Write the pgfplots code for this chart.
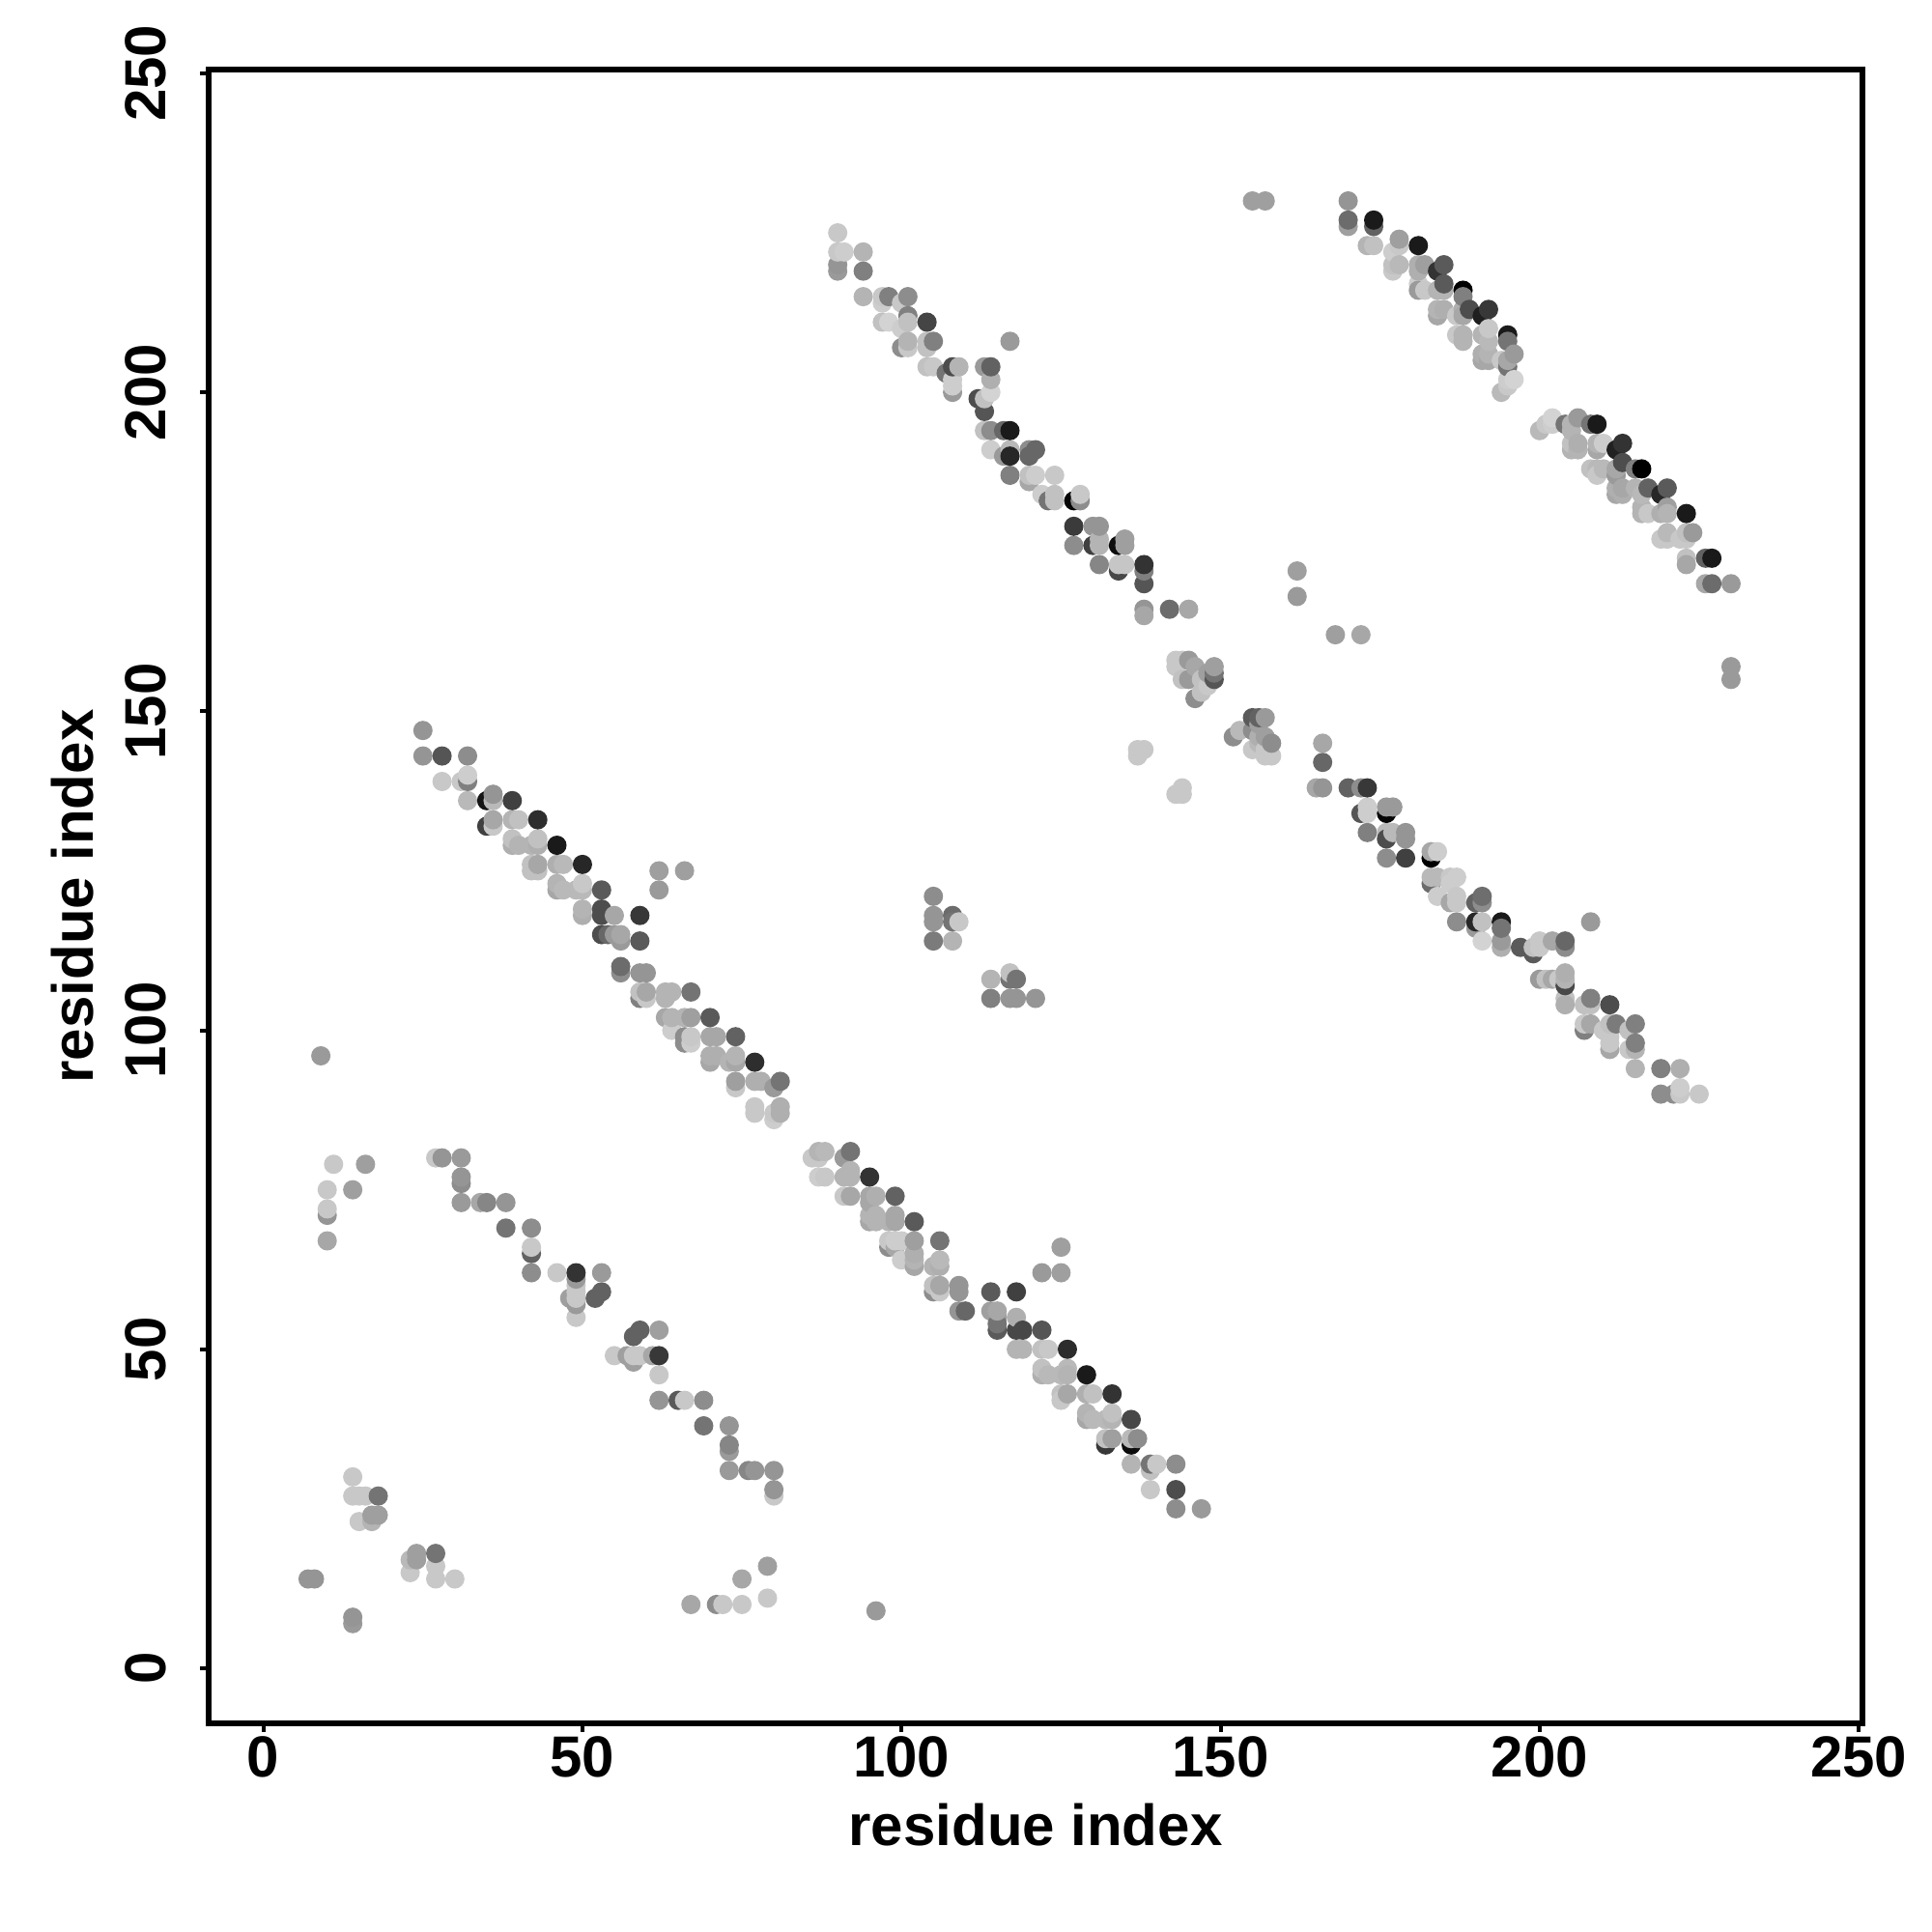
\documentclass[border=0pt]{standalone}
\usepackage{pgfplots}
\usepackage{pgfplotstable}
\pgfplotsset{compat=1.18}
\usepackage{fontspec}
\setmainfont{Liberation Sans}
\pgfplotstableread[row sep=\\]{
x y g\\
90 225 78\\ 90 220 58\\ 90 219 60\\ 94 219 50\\ 90 222 78\\ 91 222 80\\ 94 222 70\\
94 215 70\\ 97 215 78\\ 97 214 80\\ 98 215 50\\ 101 215 55\\ 100 214 78\\
101 212 50\\ 104 211 27\\ 97 211 75\\ 98 211 82\\ 100 210 80\\ 101 211 75\\
101 208 70\\ 105 208 50\\ 100 207 55\\ 101 207 78\\ 104 208 75\\ 104 207 75\\
104 204 75\\ 105 204 78\\ 108 204 30\\ 107 203 45\\ 109 204 70\\ 108 202 80\\ 108 201 80\\ 108 200 60\\
113 204 60\\ 114 204 38\\ 114 202 68\\ 114 200 82\\ 113 199 75\\ 112 199 30\\ 113 197 33\\ 117 208 60\\
113 194 75\\ 114 194 55\\ 116 194 40\\ 117 194 10\\
114 191 80\\ 117 191 72\\ 116 190 60\\ 117 190 15\\ 120 191 55\\ 121 191 40\\ 120 190 40\\
117 187 50\\ 120 187 75\\ 121 187 80\\ 124 187 78\\ 120 186 65\\ 122 184 80\\ 124 184 75\\ 124 183 75\\ 123 183 45\\
127 183 2\\ 128 183 55\\ 128 184 78\\
127 179 23\\ 130 179 58\\ 131 179 58\\ 127 176 55\\ 130 176 25\\ 131 177 70\\ 131 176 70\\ 134 176 5\\ 135 177 62\\ 135 176 62\\
131 173 52\\ 134 172 28\\ 134 173 77\\ 135 173 77\\ 138 173 20\\ 138 172 50\\ 138 170 33\\
138 166 58\\ 138 165 65\\ 142 166 42\\ 145 166 65\\ 155 230 62\\ 157 230 62\\
170 230 58\\ 170 226 62\\ 170 227 42\\ 174 226 38\\ 174 227 10\\ 173 223 70\\ 174 223 75\\
177 222 80\\ 178 223 78\\ 178 224 62\\ 181 223 10\\ 177 219 78\\ 177 220 75\\ 178 220 72\\
181 220 68\\ 182 220 62\\ 181 219 68\\ 184 219 20\\ 185 220 35\\
181 217 80\\ 181 216 60\\ 182 216 78\\ 184 216 70\\ 185 216 70\\ 185 217 35\\ 188 216 0\\ 188 215 50\\
184 213 70\\ 184 212 65\\ 185 213 68\\ 188 213 68\\ 188 212 65\\ 187 212 78\\ 189 213 30\\ 191 212 12\\ 192 213 22\\
187 209 78\\ 188 209 70\\ 188 208 70\\ 191 209 70\\ 192 210 78\\ 192 208 72\\ 195 209 10\\ 195 208 45\\
191 206 68\\ 192 206 70\\ 191 205 65\\ 192 205 65\\ 194 205 78\\ 195 205 65\\ 195 204 45\\ 196 206 60\\
195 202 80\\ 196 202 82\\ 194 200 72\\ 195 201 78\\
200 194 72\\ 201 195 78\\ 202 196 82\\ 202 195 80\\ 204 195 45\\ 205 195 70\\ 206 196 60\\ 205 194 70\\ 208 195 45\\ 209 195 10\\
205 192 75\\ 205 191 70\\ 206 192 68\\ 206 191 70\\ 209 192 70\\ 209 191 65\\ 210 192 80\\ 212 191 13\\ 213 192 20\\
208 188 75\\ 209 188 72\\ 209 187 78\\ 210 188 72\\ 212 188 65\\ 212 187 60\\ 213 189 30\\ 215 188 50\\ 216 188 0\\
212 185 68\\ 212 184 65\\ 213 185 65\\ 213 184 68\\ 215 185 70\\ 216 184 72\\ 217 185 38\\ 219 184 15\\ 220 185 35\\
216 182 70\\ 216 181 70\\ 217 181 78\\ 219 181 68\\ 220 182 62\\ 220 181 70\\ 223 181 10\\
219 177 78\\ 220 178 72\\ 220 177 78\\ 222 177 78\\ 223 178 75\\ 223 177 78\\ 224 178 60\\
223 174 75\\ 223 173 65\\ 226 174 38\\ 227 174 10\\ 226 170 65\\ 227 170 42\\ 230 170 60\\
162 172 62\\ 162 168 60\\ 168 162 62\\ 172 162 65\\ 230 155 60\\ 230 157 60\\
25 147 58\\ 25 143 58\\ 28 143 33\\ 32 143 55\\ 28 139 78\\ 31 139 78\\ 32 139 50\\ 32 140 80\\
32 136 72\\ 35 136 8\\ 36 136 72\\ 36 137 58\\ 39 136 25\\ 35 132 25\\ 36 132 78\\ 36 133 65\\ 39 133 70\\ 40 133 75\\ 43 133 18\\
39 130 75\\ 39 129 68\\ 40 129 70\\ 42 129 70\\ 43 130 75\\ 43 129 68\\ 46 129 10\\
42 126 75\\ 43 126 65\\ 42 125 75\\ 43 125 75\\ 46 126 68\\ 47 126 72\\ 50 126 15\\
46 123 70\\ 46 122 65\\ 47 122 72\\ 49 122 72\\ 50 123 78\\ 50 122 72\\ 53 122 35\\
62 125 62\\ 66 125 62\\ 62 122 60\\
50 119 70\\ 50 118 68\\ 53 119 30\\ 53 118 30\\ 55 118 65\\ 59 118 22\\
53 115 30\\ 54 115 40\\ 55 115 60\\ 56 115 65\\ 56 114 60\\ 59 114 35\\
56 109 55\\ 56 110 42\\ 59 109 58\\ 60 109 58\\
59 105 50\\ 59 106 75\\ 60 105 78\\ 60 106 65\\ 63 106 70\\ 63 105 70\\ 64 106 70\\ 67 106 45\\
63 102 65\\ 64 102 70\\ 64 100 80\\ 66 102 70\\ 67 102 62\\ 70 102 35\\
66 99 55\\ 66 98 55\\ 67 99 78\\ 67 98 80\\ 70 99 65\\ 71 99 65\\ 74 99 38\\
70 96 68\\ 70 95 65\\ 71 96 68\\ 73 95 70\\ 74 96 70\\ 74 95 65\\ 77 95 18\\
74 91 78\\ 74 92 62\\ 77 92 68\\ 78 92 68\\ 80 91 60\\ 81 92 45\\
77 88 78\\ 77 87 78\\ 80 87 78\\ 80 86 80\\ 81 88 68\\ 81 87 68\\
86 80 78\\ 87 80 78\\ 87 81 70\\ 88 81 72\\ 91 80 60\\ 92 81 45\\
87 77 80\\ 88 77 78\\ 91 77 70\\ 92 78 70\\ 92 77 70\\ 95 77 20\\
91 74 78\\ 92 74 65\\ 95 74 65\\ 96 74 68\\ 95 73 65\\ 99 74 38\\
95 71 70\\ 95 70 65\\ 96 71 70\\ 96 70 70\\ 98 70 70\\ 99 71 65\\ 99 70 65\\ 102 70 35\\
98 66 55\\ 98 67 78\\ 99 67 80\\ 99 66 65\\ 100 67 80\\ 100 64 80\\ 102 67 62\\ 102 64 70\\ 102 65 68\\ 102 63 65\\ 106 67 45\\
105 63 70\\ 106 64 72\\ 106 63 68\\ 105 60 75\\ 105 59 55\\ 106 59 78\\ 106 60 65\\ 109 60 58\\ 109 59 58\\ 109 56 58\\ 110 56 40\\
114 59 35\\ 118 59 25\\ 122 62 60\\ 125 62 62\\ 125 66 62\\
114 56 62\\ 115 56 65\\ 115 55 62\\ 118 55 68\\ 115 53 35\\ 115 54 45\\ 118 53 28\\ 119 53 28\\ 122 53 33\\
118 50 70\\ 119 50 70\\ 122 50 75\\ 123 50 78\\ 126 50 17\\
122 47 75\\ 122 46 68\\ 123 46 72\\ 125 46 72\\ 126 47 72\\ 126 46 70\\ 129 46 10\\
125 43 75\\ 125 42 78\\ 126 43 65\\ 129 43 68\\ 130 43 75\\ 133 43 20\\
129 40 70\\ 129 39 65\\ 130 39 72\\ 132 39 72\\ 133 40 75\\ 133 39 70\\ 136 39 28\\
132 35 22\\ 132 36 75\\ 133 36 62\\ 136 35 5\\ 136 36 72\\ 137 36 55\\
136 32 70\\ 139 32 45\\ 139 31 75\\ 140 32 78\\ 143 32 55\\ 139 28 78\\ 143 28 30\\ 143 25 55\\ 147 25 60\\
166 145 65\\ 166 142 40\\ 165 138 65\\ 166 138 58\\ 170 138 38\\ 172 138 55\\ 173 138 22\\
172 134 33\\ 173 135 80\\ 173 134 80\\ 176 134 2\\ 176 135 60\\ 177 135 60\\
173 131 50\\ 176 131 72\\ 176 130 30\\ 177 131 72\\ 179 131 58\\ 179 130 58\\ 176 127 55\\ 179 127 25\\
183 127 0\\ 183 128 65\\ 184 128 80\\ 183 123 42\\ 183 124 72\\ 184 124 72\\ 186 124 78\\ 187 124 80\\ 186 123 80\\
184 121 80\\ 186 120 65\\ 187 121 78\\ 187 120 78\\ 190 120 38\\ 191 120 55\\ 191 121 43\\
187 117 55\\ 190 117 15\\ 190 116 60\\ 191 117 75\\ 191 114 82\\ 194 117 10\\ 194 116 45\\ 194 114 60\\ 194 113 68\\
197 113 35\\ 199 112 35\\ 199 113 75\\ 200 114 78\\ 200 113 78\\ 202 114 65\\ 204 113 55\\ 204 114 40\\ 208 117 60\\
200 108 60\\ 201 108 75\\ 202 108 65\\ 203 108 78\\ 204 107 28\\ 204 108 70\\ 204 109 68\\ 204 105 75\\ 204 104 68\\
207 104 75\\ 208 104 75\\ 208 105 50\\ 211 104 30\\
207 100 50\\ 207 101 78\\ 208 101 65\\ 210 100 78\\ 211 101 75\\ 212 101 48\\ 211 99 78\\ 211 97 65\\ 211 98 78\\
214 100 75\\ 215 101 50\\ 214 97 78\\ 215 97 70\\ 215 98 50\\ 215 94 70\\ 219 94 50\\ 222 94 68\\
219 90 55\\ 221 90 55\\ 222 90 78\\ 222 91 80\\ 225 90 78\\
137 143 78\\ 137 144 78\\ 138 144 78\\ 143 137 78\\ 144 138 78\\ 144 137 78\\
143 158 78\\ 143 157 78\\ 144 158 78\\ 145 158 60\\ 146 157 65\\ 144 155 75\\ 145 155 60\\ 146 152 55\\ 147 153 75\\ 148 154 78\\ 147 155 75\\ 148 156 62\\ 149 155 33\\ 149 156 45\\ 149 157 62\\
152 146 55\\ 153 147 72\\ 155 149 35\\ 156 149 38\\ 157 149 60\\ 155 147 55\\ 156 148 62\\ 155 144 78\\ 156 146 68\\ 157 146 62\\ 158 145 55\\ 157 143 78\\ 158 143 78\\ 157 144 78\\ 156 145 72\\
105 121 55\\ 105 118 58\\ 105 117 58\\ 105 114 48\\ 108 118 42\\ 108 117 45\\ 109 117 78\\ 108 114 70\\
114 108 70\\ 117 109 75\\ 117 108 45\\ 118 108 45\\ 114 105 50\\ 117 105 58\\ 118 105 58\\ 121 105 58\\
11 79 78\\ 16 79 62\\ 10 75 78\\ 14 75 62\\ 10 72 78\\ 10 71 58\\ 10 67 65\\ 9 96 60\\ 96 9 60\\
27 80 78\\ 28 80 58\\ 31 80 60\\ 31 77 58\\ 31 76 55\\ 31 73 60\\ 34 73 65\\ 35 73 52\\ 38 73 58\\ 38 69 45\\ 42 69 55\\ 42 65 38\\ 42 66 78\\ 42 62 55\\
46 62 78\\ 49 62 20\\ 49 61 60\\ 53 62 60\\ 53 59 38\\ 52 58 38\\ 49 60 78\\ 49 59 78\\ 48 58 62\\ 49 58 78\\ 49 57 60\\ 49 55 78\\
59 53 38\\ 58 52 38\\ 62 53 62\\ 55 49 78\\ 57 49 62\\ 58 48 62\\ 58 49 78\\ 59 49 78\\ 61 49 65\\ 62 49 22\\ 62 46 78\\
62 42 58\\ 65 42 35\\ 66 42 78\\ 69 42 55\\ 69 38 45\\ 73 38 58\\ 73 35 52\\ 73 34 60\\ 73 31 60\\ 76 31 52\\ 77 31 58\\ 80 31 58\\ 80 28 58\\ 80 27 78\\
14 30 78\\ 14 27 78\\ 15 27 78\\ 16 27 78\\ 18 27 45\\ 15 23 78\\ 17 23 70\\ 17 24 62\\ 18 24 62\\
23 17 72\\ 23 15 78\\ 24 18 62\\ 24 17 62\\ 27 18 45\\ 27 16 78\\ 27 14 78\\ 30 14 78\\ 7 14 58\\ 8 14 58\\ 14 8 58\\ 14 7 60\\
67 10 65\\ 71 10 55\\ 72 10 78\\ 75 10 78\\ 75 14 65\\ 79 16 62\\ 79 11 78\\
}\rawdata
\pgfplotstablecreatecol[expr={\thisrow{x}*1000+\thisrow{y}}]{k}{\rawdata}
\pgfplotstablesort[sort key=k]{\sorteddata}{\rawdata}
\begin{document}
\begin{tikzpicture}[x=1pt,y=1pt]
\useasboundingbox (0,0) rectangle (500,500);
\begin{axis}[
  at={(54pt,54pt)}, anchor=south west, scale only axis,
  width=428pt, height=428pt,
  xmin=-8.58, xmax=250.6, ymin=-8.63, ymax=250.6,
  xtick={0,50,100,150,200,250}, ytick={0,50,100,150,200,250},
  tick pos=left, tick align=outside, major tick length=2.2pt,
  tick style={black, line width=1pt},
  axis line style={black, line width=1.5pt},
  /pgf/number format/assume math mode=true,
  every tick label/.append style={font=\fontsize{15}{18}\bfseries\selectfont},
  xticklabel style={anchor=base, yshift=-11.8pt},
  yticklabel style={rotate=90, anchor=base, yshift=8.8pt},
  xlabel={residue index}, ylabel={residue index},
  label style={font=\fontsize{15}{18}\bfseries\selectfont},
  xlabel style={at={(axis description cs:0.5,0)}, anchor=base, yshift=-31.75pt},
  ylabel style={at={(axis description cs:0,0.5)}, anchor=base, yshift=29.75pt},
  colormap={bwmap}{gray(0cm)=(0); gray(1cm)=(1)},
  point meta min=0, point meta max=100,
]
\addplot[scatter, only marks, mark=*, mark size=2.5pt, mark options={line width=0pt, draw opacity=0}, scatter src=explicit]
  table[x=x, y=y, meta=g] {\sorteddata};
\end{axis}
\end{tikzpicture}
\end{document}
